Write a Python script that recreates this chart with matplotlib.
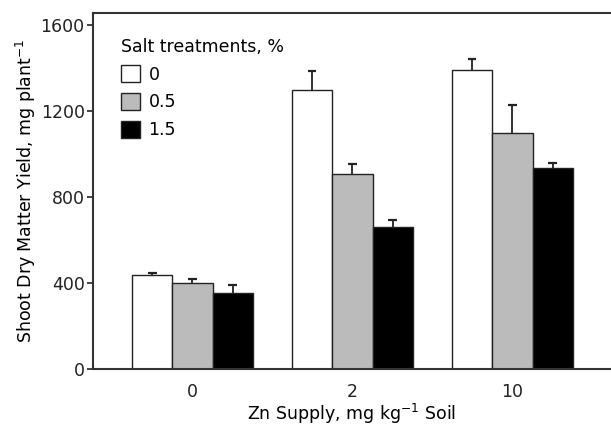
import numpy as np
import matplotlib
matplotlib.use("Agg")
import matplotlib.pyplot as plt

# Zn supply levels (x groups) and salt treatments (series)
zn_levels = ["0", "2", "10"]
salt_labels = ["0", "0.5", "1.5"]
salt_colors = ["white", "#bbbbbb", "black"]

# shoot dry matter yield, mg/plant, one list per salt treatment
yield_0 = [436, 1296, 1389]
yield_05 = [400, 904, 1098]
yield_15 = [353, 662, 935]
# upper error bars
err_0 = [10, 89, 51]
err_05 = [19, 50, 128]
err_15 = [36, 28, 23]

plt.rcParams["font.family"] = "DejaVu Sans"
plt.rcParams["font.size"] = 12.5

fig = plt.figure(figsize=(6.11, 4.26), dpi=100)
ax = fig.add_axes([93/611, 1 - 369/426, (610 - 93)/611, (369 - 13)/426])

x = np.arange(len(zn_levels))
width = 0.252
cap = 0.027
series = [yield_0, yield_05, yield_15]
errs = [err_0, err_05, err_15]
for i in range(3):
    pos = x + (i - 1) * width
    vals = np.array(series[i])
    tops = vals + np.array(errs[i])
    ax.bar(pos, vals, width, color=salt_colors[i], edgecolor="#222222",
           linewidth=1.0, label=salt_labels[i], zorder=2)
    # upper-only error bars
    ax.vlines(pos, vals, tops, color="#222222", linewidth=1.3, zorder=1)
    ax.hlines(tops, pos - cap, pos + cap, color="#222222", linewidth=1.6, zorder=1)

ax.set_xlim(-0.622, 2.61)
ax.set_ylim(0, 1654)
ax.set_yticks([0, 400, 800, 1200, 1600])
ax.set_xticks(x)
ax.set_xticklabels(zn_levels)
ax.tick_params(axis="x", length=0, pad=10, colors="#222222")
ax.tick_params(axis="y", length=4, width=1.2, colors="#222222", pad=2)
for s in ["left", "bottom", "top"]:
    ax.spines[s].set_linewidth(1.5)
    ax.spines[s].set_color("#333333")
ax.spines["right"].set_visible(False)

ax.set_xlabel("Zn Supply, mg kg$^{-1}$ Soil", labelpad=1)
ax.set_ylabel("Shoot Dry Matter Yield, mg plant$^{-1}$", labelpad=2)

leg = ax.legend(title="Salt treatments, %", loc="upper left",
                bbox_to_anchor=(0.04, 0.95), frameon=False,
                handlelength=1.1, handleheight=1.1, handletextpad=0.5,
                labelspacing=0.55, borderaxespad=0, fontsize=12.5,
                title_fontsize=12.5)
leg._legend_box.align = "left"

fig.savefig("out.png", dpi=100)
